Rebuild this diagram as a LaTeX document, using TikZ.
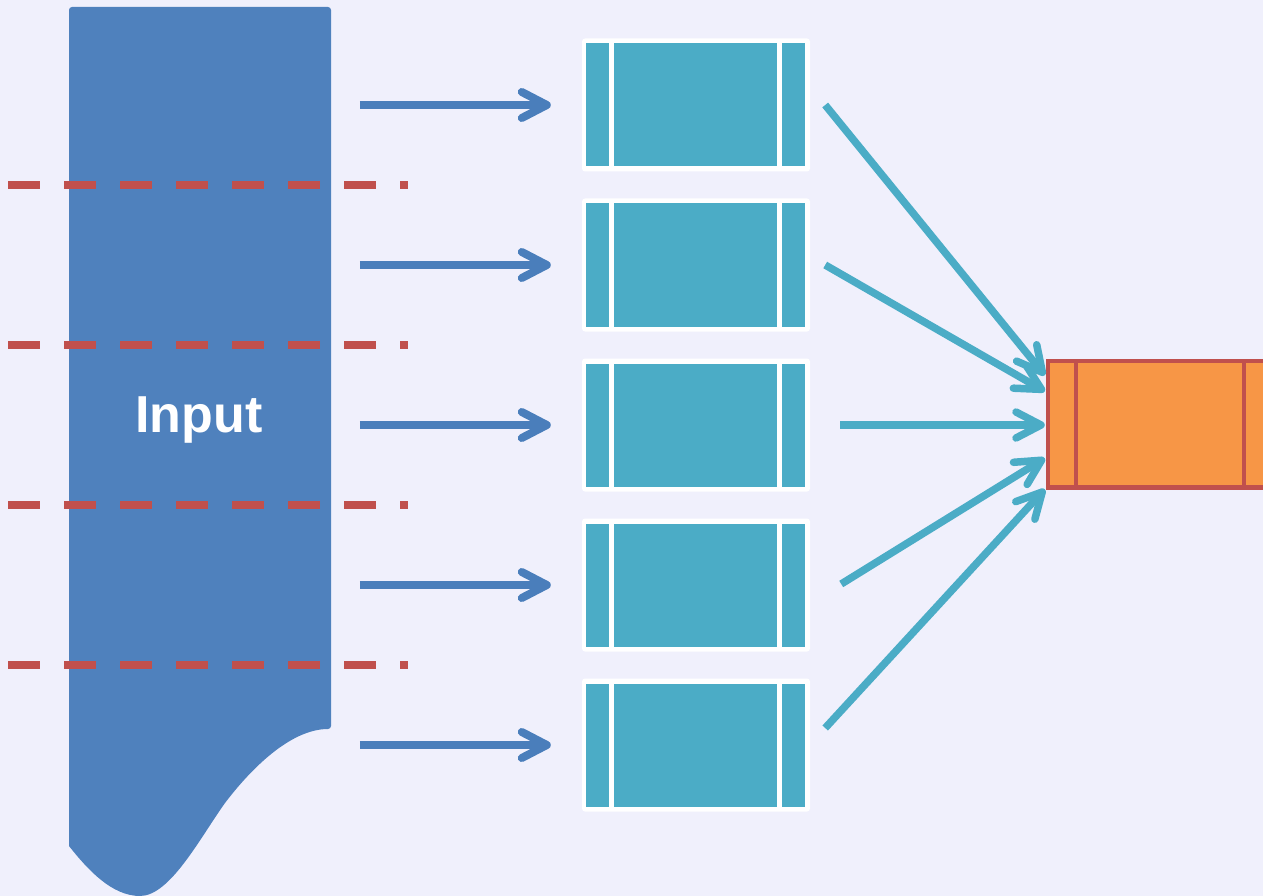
\documentclass[tikz,border=0pt]{standalone}
\usepackage{fontspec}
\setmainfont{Liberation Sans}
\usetikzlibrary{arrows.meta,calc}

\definecolor{bgc}{HTML}{F0F0FC}
\definecolor{inblue}{HTML}{4F81BD}
\definecolor{arrblue}{HTML}{4A7EBB}
\definecolor{cellteal}{HTML}{4BACC6}
\definecolor{splitred}{HTML}{C0504D}
\definecolor{outorange}{HTML}{F79646}

\tikzset{
  chunk/.style={
    draw=none, fill=white, rounded corners=3pt, inner sep=0pt,
    minimum width=228pt, minimum height=133pt,
    path picture={
      \begin{scope}[sharp corners]
      \fill[cellteal] ([shift={(4pt,-5pt)}]path picture bounding box.north west) rectangle ++(23pt,-123pt);
      \fill[cellteal] ([shift={(32pt,-5pt)}]path picture bounding box.north west) rectangle ++(163pt,-123pt);
      \fill[cellteal] ([shift={(200pt,-5pt)}]path picture bounding box.north west) rectangle ++(23pt,-123pt);
      \end{scope}
    }},
  merged/.style={
    draw=splitred, line width=4.5pt, fill=outorange, inner sep=0pt,
    minimum width=252pt, minimum height=126.5pt},
  splitline/.style={splitred, line width=8pt, dash pattern=on 32pt off 24pt},
  feed/.style={arrblue, line width=8pt,
    -{Straight Barb[length=25pt,width=26pt,round]}},
  gather/.style={cellteal, line width=7.5pt,
    -{Straight Barb[length=25pt,width=26pt,round]}},
}

\begin{document}
\begin{tikzpicture}[x=1pt,y=-1pt]
  % canvas
  \fill[bgc] (0,0) rectangle (1263,896);
  \useasboundingbox (0,0) rectangle (1263,896);
  \clip (0,0) rectangle (1263,896);

  % input document shape
  \fill[inblue] (69,10) [rounded corners=3pt] -- (69,7) -- (331,7) -- (331,729) [sharp corners]
    .. controls (290,729) and (250,770) .. (225,803)
    .. controls (200,838) and (170,896) .. (140,896)
    .. controls (112,896) and (88,870) .. (69,846) -- cycle;
  \node[font=\bfseries\fontsize{52}{60}\selectfont, text=white, anchor=base] (inp) at (199,432) {Input};

  % split markers
  \foreach \y in {185,345,505,665}
    \draw[splitline] (8,\y) -- (408,\y);

  % chunks
  \foreach \i/\y in {1/105,2/265,3/425,4/585,5/745}
    \node[chunk] (b\i) at (696,\y) {};

  % merged output
  \node[merged] (out) at (1174,424.25) {};
  \draw[splitred, line width=4pt] (1075.5,362) -- (1075.5,487);
  \draw[splitred, line width=4pt] (1244,362) -- (1244,487);

  % feeding arrows
  \foreach \i in {1,...,5} {
    \coordinate (s\i) at ($(b\i.west)+(-222,0)$);
    \draw[feed] (s\i) -- ($(b\i.west)+(-31,0)$);
  }

  % gathering arrows
  \coordinate (g1) at ($(b1.east)+(15,0)$);
  \coordinate (g2) at ($(b2.east)+(15,0)$);
  \coordinate (g3) at ($(b3.east)+(30,0)$);
  \coordinate (g4) at ($(b4.east)+(31,-1)$);
  \coordinate (g5) at ($(b5.east)+(15,-17)$);
  \draw[gather] (g1) -- ($(out.west)+(-1,-49)$);
  \draw[gather] (g2) -- ($(out.west)+(-1,-33)$);
  \draw[gather] (g3) -- ($(out.west)+(-1,0.75)$);
  \draw[gather] (g4) -- ($(out.west)+(-1,34)$);
  \draw[gather] (g5) -- ($(out.west)+(-1,65)$);
\end{tikzpicture}
\end{document}
